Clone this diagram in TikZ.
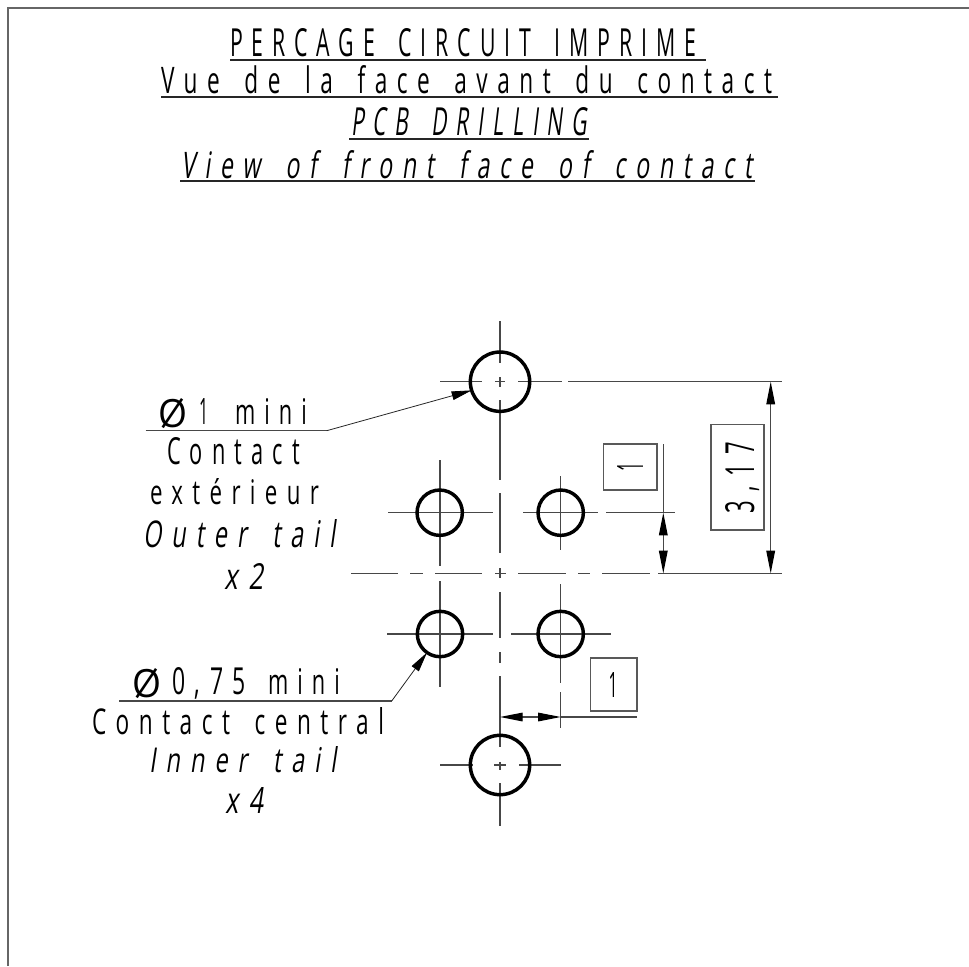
\documentclass[tikz,border=0pt]{standalone}
\usepackage{fontspec}
\usepackage{graphicx}
\usetikzlibrary{arrows.meta}
\setmainfont{Open Sans}[LetterSpace=42,WordSpace=1.6,ItalicFont={Open Sans},ItalicFeatures={FakeSlant=0.22}]
\newfontfamily\diafont{Open Sans}
\newfontfamily\onefont{Open Sans}
\newcommand{\fittxt}[3]{\resizebox{\dimexpr #1pt*3/4\relax}{\dimexpr #2pt*3/4\relax}{\fontsize{20}{20}\selectfont #3}}
\newcommand{\fitit}[3]{\resizebox{\dimexpr #1pt*3/4\relax}{\dimexpr #2pt*3/4\relax}{\fontsize{20}{20}\selectfont\itshape #3}}
\newcommand{\fitone}[1]{\resizebox{\dimexpr 9pt*3/4\relax}{\dimexpr #1pt*3/4\relax}{\fontsize{20}{20}\selectfont\onefont 1}}
\newcommand{\fitdia}{{\diafont\resizebox{\dimexpr 29pt*3/4\relax}{\dimexpr 29pt*3/4\relax}{\fontsize{20}{20}\selectfont Ø}}}
\tikzset{
  lbl/.style={anchor=base west,inner sep=0pt,outer sep=0pt},
  thin line/.style={line width=0.8pt,draw=black!72},
  under/.style={line width=1.5pt,draw=black!85},
  hole big/.style={circle,draw=black,line width=2.6pt,minimum size=44.5pt,inner sep=0pt,outer sep=0pt},
  hole small/.style={circle,draw=black,line width=2.6pt,minimum size=34pt,inner sep=0pt,outer sep=0pt},
  dimbox/.style={draw=black!65,line width=0.8pt},
  dimtip/.style={{Triangle[length=17pt,width=6.5pt,color=black]}-{Triangle[length=17pt,width=6.5pt,color=black]}},
  leader/.style={-{Triangle[length=15pt,width=6.5pt,color=black]},line width=0.6pt,draw=black!85},
}
\begin{document}
\begin{tikzpicture}[x=0.75pt,y=-0.75pt]
\useasboundingbox (0,0) rectangle (969,966);
% frame
\draw[line width=0.9pt,draw=black!60] (8,966) -- (8,8) -- (969,8);
% centre lines
\foreach \a/\b in {321/363,377/387,400/480,493/553,568/578,592/638,652/663,676/747,762/770,783/826}
  \draw[thin line] (500,\a) -- (500,\b);
\foreach \a/\b in {440/482,495/505,518/562,568/782}
  \draw[thin line] (\a,381.7) -- (\b,381.7);
\foreach \a/\b in {351/398,410/423,435/482,495/506,518/566,578/590,602/650,658/782}
  \draw[thin line,line width=1pt] (\a,573.3) -- (\b,573.3);
\draw[thin line] (388,512.7) -- (493,512.7);
\draw[thin line] (440,460) -- (440,566);
\draw[thin line] (523,512.7) -- (598,512.7);
\draw[thin line] (606,512.7) -- (675,512.7);
\draw[thin line] (560.7,476) -- (560.7,550);
\draw[thin line] (387,634) -- (493,634);
\draw[thin line] (440,581) -- (440,687);
\draw[thin line] (511,634) -- (611,634);
\draw[thin line] (560.7,584) -- (560.7,683);
\draw[thin line] (560.7,692) -- (560.7,728);
\foreach \a/\b in {440/473,494/506,519/561}
  \draw[thin line] (\a,765) -- (\b,765);
% holes
\node[hole big] (htop) at (500,381.7) {};
\node[hole big] (hbot) at (500,765) {};
\node[hole small] (hul) at (439.7,512.7) {};
\node[hole small] (hur) at (560.7,512.7) {};
\node[hole small] (hll) at (440,634) {};
\node[hole small] (hlr) at (560.7,634) {};
% dimensions
\coordinate (d3a) at (770.7,381.7);
\coordinate (d3b) at (770.7,573.3);
\draw[thin line,dimtip] (d3a) -- (d3b);
\coordinate (d1top) at (663.3,444);
\coordinate (d1a) at (663.3,512.7);
\coordinate (d1b) at (663.3,573.3);
\draw[thin line] (d1top) -- (d1a);
\draw[thin line,dimtip] (d1a) -- (d1b);
\coordinate (dha) at (500,717);
\coordinate (dhb) at (560.7,717);
\coordinate (dhc) at (637,717);
\draw[thin line,dimtip] (dha) -- (dhb);
\draw[thin line] (dhb) -- (dhc);
\draw[dimbox] (711,424.7) rectangle (764,530);
\draw[dimbox] (603.7,444) rectangle (657,490);
\draw[dimbox] (590.7,658) rectangle (637,711);
\node[lbl,rotate=90] (t317) at (754,513) {\fittxt{71}{29}{3,17}};
\node[anchor=base,inner sep=0pt,rotate=90] (t1v) at (643,467) {\fitone{26}};
\node[anchor=base,inner sep=0pt] (t1h) at (613,697) {\fitone{25}};
% leaders
\coordinate (l1a) at (145.7,430.7);
\coordinate (l1b) at (326.7,430.7);
\draw[thin line,line width=1pt] (l1a) -- (l1b);
\draw[leader] (l1b) -- (htop.197);
\coordinate (l2a) at (119.3,701);
\coordinate (l2b) at (391.7,701);
\draw[thin line,line width=1pt] (l2a) -- (l2b);
\draw[leader] (l2b) -- (hll.235);
% title
\node[lbl] (t1) at (230,57) {\fittxt{466}{28}{PERCAGE CIRCUIT IMPRIME}};
\node[lbl] (t2) at (161,94) {\fittxt{611}{28}{Vue de la face avant du contact}};
\node[lbl] (t3) at (351,136) {\fitit{236}{28}{PCB DRILLING}};
\node[lbl] (t4) at (181,178) {\fitit{571}{28}{View of front face of contact}};
\draw[under] (230,60) -- (706,60);
\draw[under] (161,97.5) -- (778,97.5);
\draw[under] (349,139.5) -- (589,139.5);
\draw[under] (180,181.5) -- (755,181.5);
% left labels
\node[lbl] (a1) at (158,427) {\fitdia};
\node[lbl] (a2) at (199,424) {\fitone{26}};
\node[lbl] (a3) at (235,424) {\fittxt{72}{26}{mini}};
\node[lbl] (a4) at (167,464) {\fittxt{133}{27}{Contact}};
\node[lbl] (a5) at (150,504) {\fittxt{169}{26}{extérieur}};
\node[lbl] (a6) at (143,547) {\fitit{192}{28}{Outer tail}};
\node[lbl] (a7) at (224,589) {\fitit{39}{26}{x2}};
\node[lbl] (b1) at (132,697) {\fitdia};
\node[lbl] (b2) at (172,694) {\fittxt{74}{27}{0,75}};
\node[lbl] (b3) at (268,694) {\fittxt{72}{26}{mini}};
\node[lbl] (b4) at (92,734) {\fittxt{292}{27}{Contact central}};
\node[lbl] (b5) at (149,772) {\fitit{187}{26}{Inner tail}};
\node[lbl] (b6) at (225,813) {\fitit{38}{26}{x4}};
\end{tikzpicture}
\end{document}
